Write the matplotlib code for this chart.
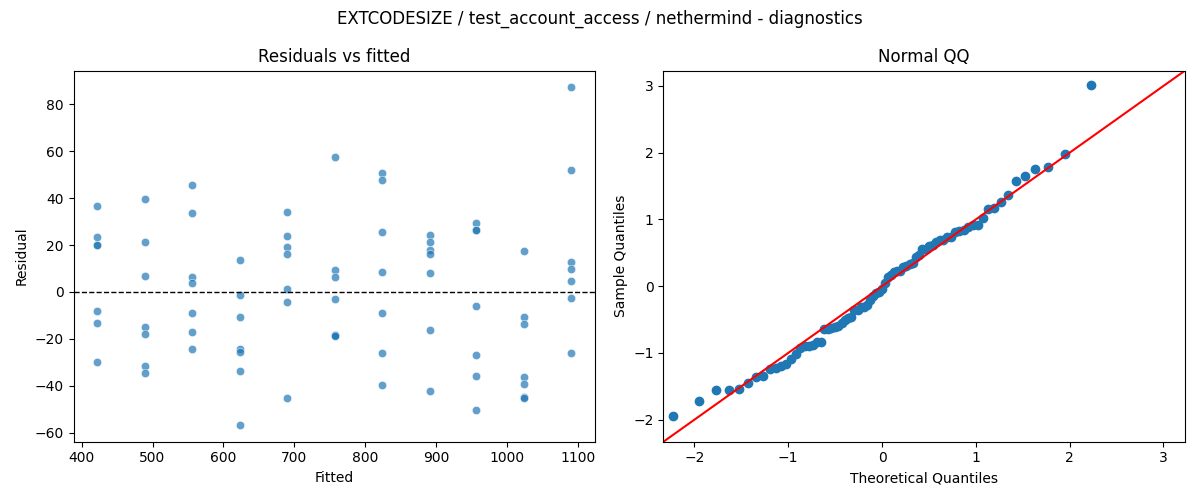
import numpy as np
import matplotlib
matplotlib.use("Agg")
import matplotlib.pyplot as plt
import seaborn as sns
from statistics import NormalDist

# fitted value of each group
fitted_levels = [422, 489, 556, 623, 690, 757, 824, 891, 957, 1024, 1091]

# residuals per fitted level
residuals_by_level = [
    [36.5, 23.4, 20.1, 19.9, -8.1, -13.3, -29.8],
    [39.6, 21.3, 6.7, -14.9, -17.9, -31.8, -34.6],
    [45.8, 33.6, 6.4, 3.8, -9.1, -17.2, -24.3],
    [13.6, -1.4, -10.6, -24.3, -25.7, -33.8, -56.7],
    [33.9, 23.8, 19.1, 16.0, 1.3, -4.3, -45.2],
    [57.4, 9.4, 6.2, -3.1, -18.2, -18.5, -18.9],
    [50.9, 47.9, 25.5, 8.5, -9.1, -26.0, -39.6],
    [24.3, 21.1, 17.9, 16.2, 8.1, -16.2, -42.1],
    [29.6, 26.5, 26.3, -6.0, -26.9, -35.7, -50.2],
    [17.4, -10.6, -13.8, -36.2, -39.1, -45.0, -45.2],
    [87.2, 51.8, 12.8, 9.8, 4.7, -2.6, -26.0],
]

title = "EXTCODESIZE / test_account_access / nethermind - diagnostics"

fitted = np.concatenate([[f] * len(r) for f, r in zip(fitted_levels, residuals_by_level)])
resid = np.concatenate(residuals_by_level)

# QQ: standardised sample quantiles against normal plotting positions i/(n+1)
n = len(resid)
sample_q = (np.sort(resid) - resid.mean()) / resid.std()
nd = NormalDist()
theo_q = np.array([nd.inv_cdf(i / (n + 1)) for i in range(1, n + 1)])

fig, (ax1, ax2) = plt.subplots(1, 2, figsize=(12, 5), dpi=100)

sns.scatterplot(x=fitted, y=resid, alpha=0.7, ax=ax1)
ax1.axhline(0, color="black", linestyle="--", linewidth=1)
ax1.set_title("Residuals vs fitted")
ax1.set_xlabel("Fitted")
ax1.set_ylabel("Residual")

ax2.plot(theo_q, sample_q, "o", color="C0")
lo, hi = -2.33, 3.23
ax2.set_xlim(lo, hi)
ax2.set_ylim(lo, hi)
ax2.axline((0, 0), slope=1, color="red")
ax2.set_title("Normal QQ")
ax2.set_xlabel("Theoretical Quantiles")
ax2.set_ylabel("Sample Quantiles")

fig.suptitle(title)
fig.tight_layout()
fig.savefig("out.png")
